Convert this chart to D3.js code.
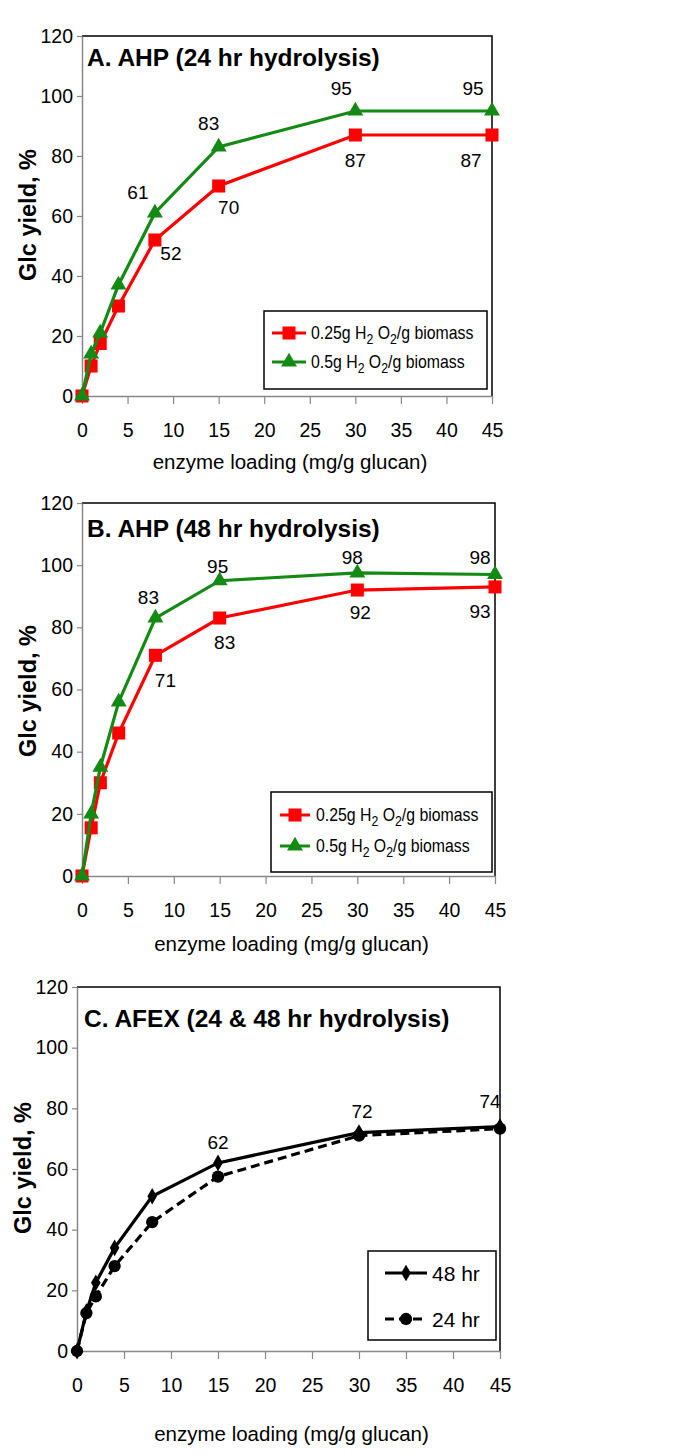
<!DOCTYPE html>
<html>
<head>
<meta charset="utf-8">
<script src="https://cdn.jsdelivr.net/npm/d3@7"></script>
<style>
  body { margin: 0; background: #fff; }
  svg text { font-family: "Liberation Sans", Arial, sans-serif; }
</style>
</head>
<body>
<div id="chart"></div>
<script>
// enzyme loadings (mg/g glucan)
var loading = [0, 1, 2, 4, 8, 15, 30, 45];
var xTicks = [0, 5, 10, 15, 20, 25, 30, 35, 40, 45];
var yTicks = [0, 20, 40, 60, 80, 100, 120];

// A. AHP 24 hr
var ahp24Low  = [0, 10, 17.5, 30, 52, 70, 87, 87];
var ahp24High = [0, 14, 21, 37, 61, 83, 95, 95];
// B. AHP 48 hr
var ahp48Low  = [0, 15.5, 30, 46, 71, 83, 92, 93];
var ahp48High = [0, 20, 35, 56, 83, 95, 97.5, 97];
// C. AFEX
var afex48 = [0, 13, 22.5, 34, 51, 62, 72, 74];
var afex24 = [0, 12.5, 18, 28, 42.5, 57.5, 71, 73.3];

// point labels (value text at loading index 4..7)
var ahp24LowLab  = ["52", "70", "87", "87"];
var ahp24HighLab = ["61", "83", "95", "95"];
var ahp48LowLab  = ["71", "83", "92", "93"];
var ahp48HighLab = ["83", "95", "98", "98"];
var afex48Lab    = ["62", "72", "74"];

var legendLow = "0.25g", legendHigh = "0.5g";

var RED = "#ff0000", GREEN = "#138a13";

var svg = d3.select("#chart").append("svg")
    .attr("width", 685).attr("height", 1455);

function drawPanel(p) {
    var x = d3.scaleLinear().domain([0, 45]).range([p.left, p.right]);
    var y = d3.scaleLinear().domain([0, 120]).range([p.bottom, p.top]);
    var g = svg.append("g");

    // frame: top and right in black
    g.append("path")
        .attr("d", "M" + p.left + "," + p.top + "H" + p.right + "V" + p.bottom)
        .attr("fill", "none").attr("stroke", "#000").attr("stroke-width", 1.5);

    var ya = g.append("g").attr("transform", "translate(" + p.left + ",0)")
        .call(d3.axisLeft(y).tickValues(yTicks).tickSize(5).tickSizeOuter(0).tickPadding(4));
    var xa = g.append("g").attr("transform", "translate(0," + p.bottom + ")")
        .call(d3.axisBottom(x).tickValues(xTicks).tickSize(8).tickSizeOuter(0).tickPadding(19));
    [ya, xa].forEach(function (a) {
        a.select(".domain").attr("stroke", "#888").attr("stroke-width", 1.5);
        a.selectAll(".tick line").attr("stroke", "#888").attr("stroke-width", 1.2);
        a.selectAll(".tick text").attr("fill", "#000")
            .style("font-size", "19.5px").style("font-family", "'Liberation Sans', Arial, sans-serif");
    });

    g.append("text")
        .attr("x", (p.left + p.right) / 2 + 3).attr("y", p.xTitleY)
        .attr("text-anchor", "middle").style("font-size", "20.5px")
        .text("enzyme loading (mg/g glucan)");

    g.append("text")
        .attr("transform", "translate(" + p.yTitleX + "," + p.yTitleY + ") rotate(-90)")
        .attr("text-anchor", "middle").attr("dominant-baseline", "central")
        .style("font-size", "23.5px").style("font-weight", "bold")
        .text("Glc yield, %");

    g.append("text")
        .attr("x", p.titleX).attr("y", p.titleY)
        .style("font-size", "24.5px").style("font-weight", "bold")
        .text(p.title);

    var line = d3.line().x(function (d, i) { return x(loading[i]); })
        .y(function (d) { return y(d); });

    p.series.forEach(function (s) {
        g.append("path").datum(s.values)
            .attr("d", line).attr("fill", "none")
            .attr("stroke", s.color).attr("stroke-width", 3.2)
            .attr("stroke-dasharray", s.dash || null);
        g.selectAll(null).data(s.values).enter().append("path")
            .attr("transform", function (d, i) { return "translate(" + x(loading[i]) + "," + y(d) + ")"; })
            .attr("d", d3.symbol().type(s.symbol).size(s.size))
            .attr("fill", s.color);
        if (s.labels) {
            var start = loading.length - s.labels.length;
            s.labels.forEach(function (t, k) {
                var i = start + k;
                g.append("text")
                    .attr("x", x(loading[i]) + s.offsets[k][0])
                    .attr("y", y(s.values[i]) + s.offsets[k][1])
                    .attr("text-anchor", "middle").attr("dominant-baseline", "central")
                    .style("font-size", "19px")
                    .text(t);
            });
        }
    });

    // legend
    var L = p.legend;
    g.append("rect").attr("x", L.x).attr("y", L.y).attr("width", L.w).attr("height", L.h)
        .attr("fill", "#fff").attr("stroke", "#000").attr("stroke-width", 1.5);
    p.series.forEach(function (s, k) {
        var ly = L.rows[k];
        g.append("line").attr("x1", L.lx0).attr("x2", L.lx1).attr("y1", ly).attr("y2", ly)
            .attr("stroke", s.color).attr("stroke-width", 3)
            .attr("stroke-dasharray", s.dash || null);
        g.append("path")
            .attr("transform", "translate(" + (L.lx0 + L.lx1) / 2 + "," + ly + ")")
            .attr("d", d3.symbol().type(s.symbol).size(s.size)).attr("fill", s.color);
        if (s.dose) {
            // narrow look of the original legend
            var t = g.append("text")
                .attr("transform", "translate(" + L.tx + "," + (ly + 6) + ") scale(0.88,1)")
                .style("font-size", L.font + "px");
            t.append("tspan").text(s.dose + " H");
            t.append("tspan").attr("dy", 5).style("font-size", "14px").text("2");
            t.append("tspan").attr("dy", -5).text(" O");
            t.append("tspan").attr("dy", 5).style("font-size", "14px").text("2");
            t.append("tspan").attr("dy", -5).text("/g biomass");
        } else {
            g.append("text").attr("x", L.tx).attr("y", ly)
                .attr("dominant-baseline", "central").style("font-size", L.font + "px")
                .text(s.name);
        }
    });
}

drawPanel({
    left: 82, right: 492, top: 36, bottom: 396,
    xTitleY: 469, yTitleX: 28, yTitleY: 215,
    titleX: 87, titleY: 66, title: "A. AHP (24 hr hydrolysis)",
    series: [
        { values: ahp24Low, color: RED, symbol: d3.symbolSquare, size: 170, dose: legendLow,
          labels: ahp24LowLab, offsets: [[16, 13], [10, 21], [0, 25], [-21, 25]] },
        { values: ahp24High, color: GREEN, symbol: d3.symbolTriangle, size: 110, dose: legendHigh,
          labels: ahp24HighLab, offsets: [[-17, -21], [-10, -24], [-14, -23], [-19, -23]] }
    ],
    legend: { x: 264, y: 311, w: 223, h: 78, rows: [333, 362], lx0: 272, lx1: 306, tx: 311, font: 18 }
});

drawPanel({
    left: 82, right: 495, top: 503, bottom: 876,
    xTitleY: 951, yTitleX: 28, yTitleY: 691,
    titleX: 87, titleY: 537, title: "B. AHP (48 hr hydrolysis)",
    series: [
        { values: ahp48Low, color: RED, symbol: d3.symbolSquare, size: 170, dose: legendLow,
          labels: ahp48LowLab, offsets: [[10, 25], [5, 24], [3, 22], [-15, 25]] },
        { values: ahp48High, color: GREEN, symbol: d3.symbolTriangle, size: 110, dose: legendHigh,
          labels: ahp48HighLab, offsets: [[-7, -21], [-2, -14], [-5, -15], [-15, -17]] }
    ],
    legend: { x: 271, y: 792, w: 221, h: 80, rows: [815, 846], lx0: 280, lx1: 310, tx: 316, font: 18 }
});

drawPanel({
    left: 77, right: 500, top: 987, bottom: 1351,
    xTitleY: 1441, yTitleX: 23, yTitleY: 1168,
    titleX: 84, titleY: 1027, title: "C. AFEX (24 & 48 hr hydrolysis)",
    series: [
        { values: afex48, color: "#000", symbol: d3.symbolDiamond, size: 80, name: "48 hr",
          labels: afex48Lab, offsets: [[0, -20], [3, -21], [-10, -25]] },
        { values: afex24, color: "#000", symbol: d3.symbolCircle, size: 120, name: "24 hr", dash: "9,5" }
    ],
    legend: { x: 368, y: 1251, w: 128, h: 89, rows: [1273, 1319], lx0: 385, lx1: 427, tx: 432, font: 21 }
});
</script>
</body>
</html>
